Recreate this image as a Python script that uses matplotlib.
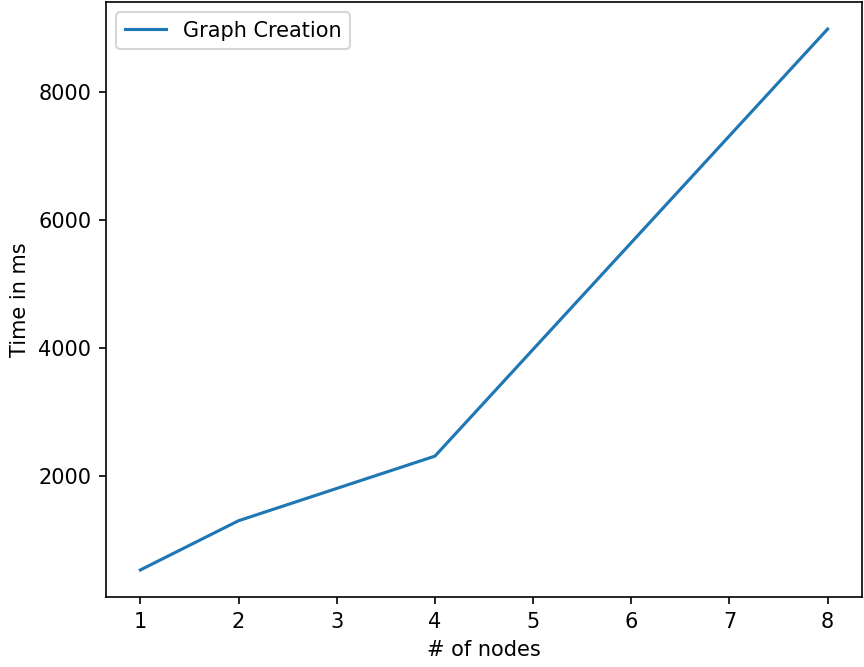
import matplotlib
matplotlib.use("Agg")
import matplotlib.pyplot as plt

nodes = [1, 2, 4, 8]
graph_creation_ms = [530, 1300, 2310, 8990]

fig = plt.figure(figsize=(864 / 150, 667 / 150), dpi=150)
ax = fig.add_axes([106 / 864, 1 - 597 / 667, 756 / 864, 595 / 667])

ax.plot(nodes, graph_creation_ms, label="Graph Creation")
ax.set_xlabel("# of nodes")
ax.set_ylabel("Time in ms")
ax.legend(loc="upper left")

fig.savefig("out.png", dpi=150)
